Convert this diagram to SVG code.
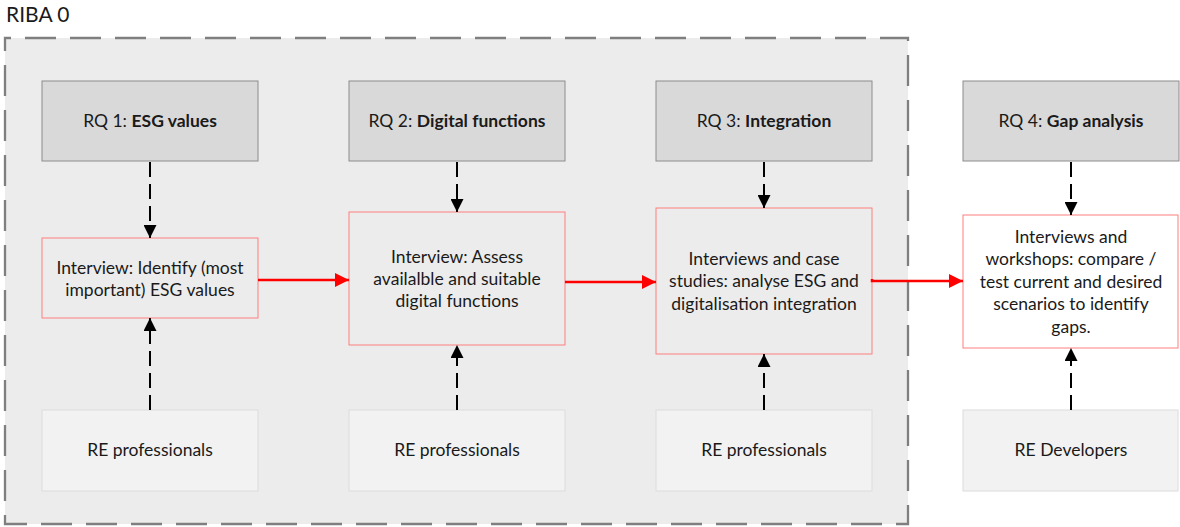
<svg xmlns="http://www.w3.org/2000/svg" width="1180" height="527" viewBox="0 0 1180 527">
<defs>
<style>
text{font-family:Lato,"Open Sans","Liberation Sans",sans-serif;font-size:17.5px;fill:#1a1a1a;text-anchor:middle}
.rq{fill:#d9d9d9;stroke:#8c8c8c;stroke-width:1}
.mid{fill:#ececec;stroke:#ff7f7f;stroke-width:1}
.mid4{fill:#ffffff;stroke:#ff7f7f;stroke-width:1}
.src{fill:#f2f2f2;stroke:#dcdcdc;stroke-width:1}
.dash{stroke:#000;stroke-width:2;stroke-dasharray:15 7;fill:none}
.red{stroke:#ff0000;stroke-width:2.5;fill:none}
.b{font-weight:bold}
</style>
<marker id="ab" markerWidth="13" markerHeight="13" refX="13" refY="6.5" orient="auto" markerUnits="userSpaceOnUse"><path d="M0,0 L13,6.5 L0,13 z" fill="#000"/></marker>
<marker id="ar" markerWidth="14" markerHeight="14" refX="14" refY="7" orient="auto" markerUnits="userSpaceOnUse"><path d="M0,0 L14,7 L0,14 z" fill="#ff0000"/></marker>
</defs>
<rect width="1180" height="527" fill="#ffffff"/>
<g id="riba0">
<rect x="5" y="38" width="903" height="486" fill="#ececec" stroke="#7f7f7f" stroke-width="2.3" stroke-dasharray="31 14" stroke-dashoffset="-20"/>
<text x="6" y="22" style="text-anchor:start;font-size:21px">RIBA 0</text>
</g>
<g id="rq1"><rect class="rq" x="42" y="81" width="216" height="80"/><text x="150" y="127">RQ 1: <tspan class="b">ESG values</tspan></text></g>
<g id="rq2"><rect class="rq" x="349" y="81" width="216" height="80"/><text x="457" y="127">RQ 2: <tspan class="b">Digital functions</tspan></text></g>
<g id="rq3"><rect class="rq" x="656" y="81" width="216" height="80"/><text x="764" y="127">RQ 3: <tspan class="b">Integration</tspan></text></g>
<g id="rq4"><rect class="rq" x="963" y="81" width="216" height="80"/><text x="1071" y="127">RQ 4: <tspan class="b">Gap analysis</tspan></text></g>
<g id="m1"><rect class="mid" x="42" y="238" width="216" height="80"/><text x="150" y="274">Interview: Identify (most</text><text x="150" y="296">important) ESG values</text></g>
<g id="m2"><rect class="mid" x="349" y="212" width="216" height="133"/><text x="457" y="263">Interview: Assess</text><text x="457" y="285">availalble and suitable</text><text x="457" y="307">digital functions</text></g>
<g id="m3"><rect class="mid" x="656" y="208" width="216" height="146"/><text x="764" y="265">Interviews and case</text><text x="764" y="287">studies: analyse ESG and</text><text x="764" y="310">digitalisation integration</text></g>
<g id="m4"><rect class="mid4" x="963" y="215" width="215" height="133"/><text x="1071" y="243">Interviews and</text><text x="1071" y="265">workshops: compare /</text><text x="1071" y="288">test current and desired</text><text x="1071" y="310">scenarios to identify</text><text x="1071" y="333">gaps.</text></g>
<g id="s1"><rect class="src" x="42" y="410" width="216" height="81"/><text x="150" y="456">RE professionals</text></g>
<g id="s2"><rect class="src" x="349" y="410" width="216" height="81"/><text x="457" y="456">RE professionals</text></g>
<g id="s3"><rect class="src" x="656" y="410" width="216" height="81"/><text x="764" y="456">RE professionals</text></g>
<g id="s4"><rect class="src" x="963" y="410" width="215" height="81"/><text x="1071" y="456">RE Developers</text></g>
<g id="connectors">
<line class="dash" x1="150" y1="162" x2="150" y2="238" marker-end="url(#ab)"/>
<line class="dash" x1="457" y1="162" x2="457" y2="212" marker-end="url(#ab)"/>
<line class="dash" x1="764" y1="162" x2="764" y2="208" marker-end="url(#ab)"/>
<line class="dash" x1="1071" y1="162" x2="1071" y2="215" marker-end="url(#ab)"/>
<line class="dash" x1="150" y1="410" x2="150" y2="318" marker-end="url(#ab)"/>
<line class="dash" x1="457" y1="410" x2="457" y2="345" marker-end="url(#ab)"/>
<line class="dash" x1="764" y1="410" x2="764" y2="354" marker-end="url(#ab)"/>
<line class="dash" x1="1071" y1="410" x2="1071" y2="348" marker-end="url(#ab)"/>
<line class="red" x1="258" y1="280" x2="349" y2="280" marker-end="url(#ar)"/>
<line class="red" x1="565" y1="282" x2="656" y2="282" marker-end="url(#ar)"/>
<polyline class="red" points="872,279 872,281 963,281" marker-end="url(#ar)"/>
</g>
</svg>
